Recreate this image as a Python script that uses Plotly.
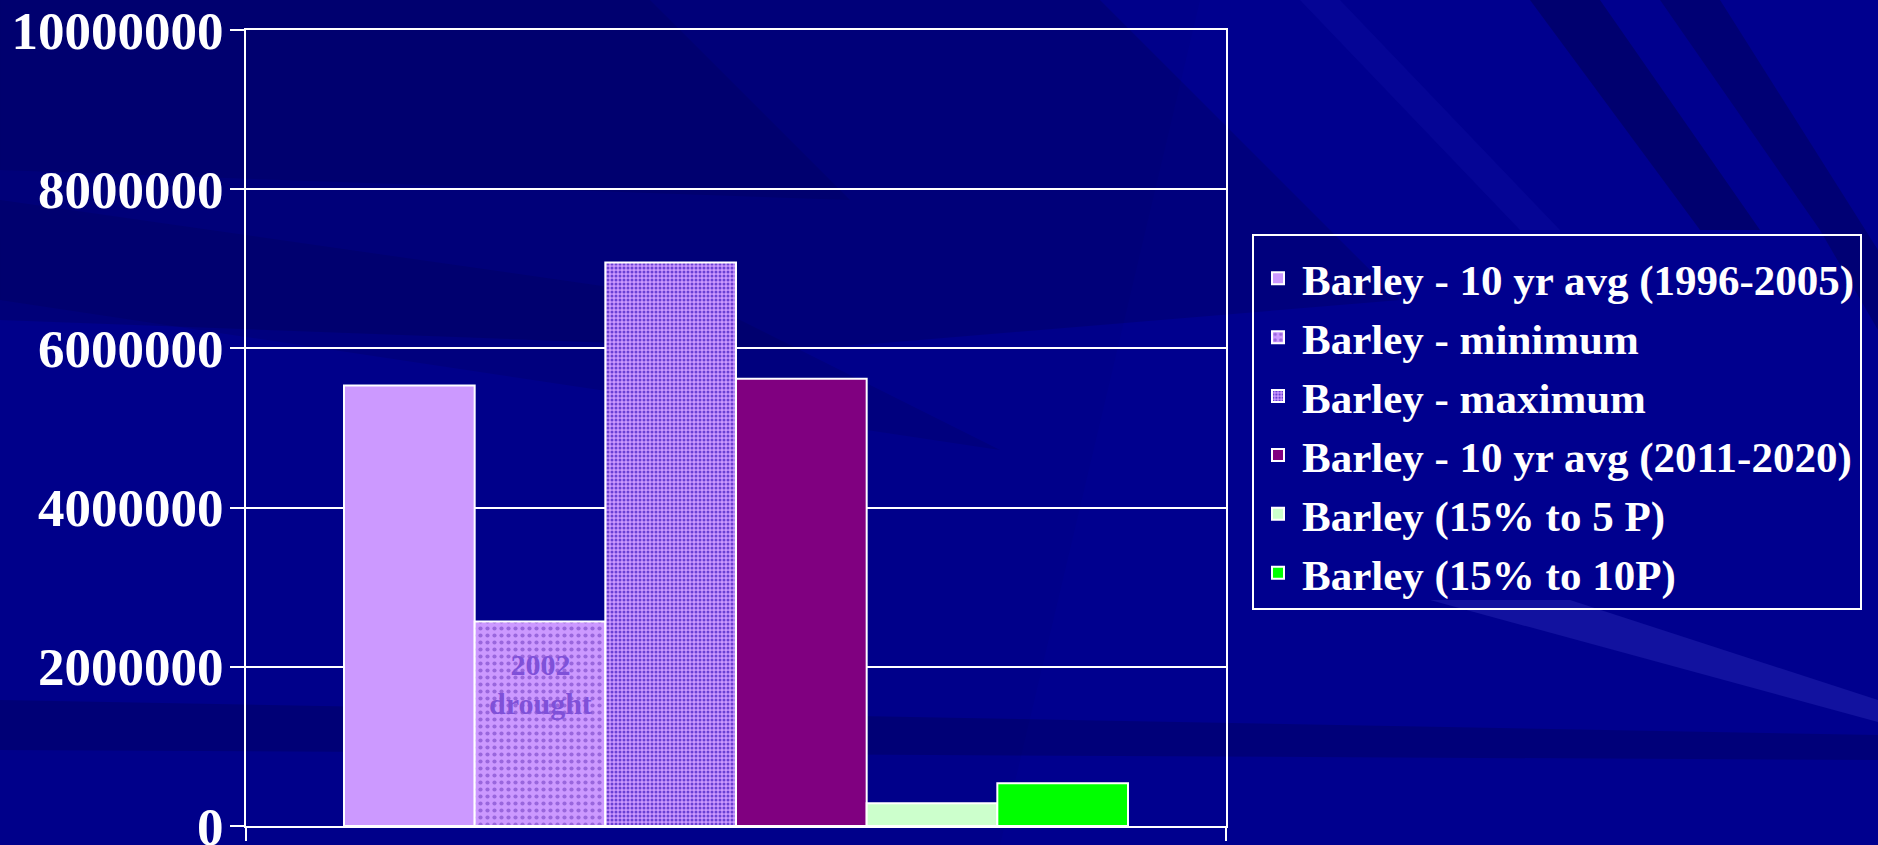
import plotly.graph_objects as go

# ---------------- data ----------------
category = [""]
series_names = [
    "Barley - 10 yr avg (1996-2005)",
    "Barley - minimum",
    "Barley - maximum",
    "Barley - 10 yr avg (2011-2020)",
    "Barley (15% to 5 P)",
    "Barley (15% to 10P)",
]
series_values = [5534000, 2569000, 7080000, 5618000, 285000, 536000]
y_tick_values = [0, 2000000, 4000000, 6000000, 8000000, 10000000]
y_tick_labels = ["0", "2000000", "4000000", "6000000", "8000000", "10000000"]
note_text = "2002<br>drought"

# ---------------- styles ----------------
fill_colors = ["#CC99FF", "#CC99FF", "#CC99FF", "#800080", "#CCFFCC", "#00FF00"]
patterns = [
    None,
    dict(shape=".", size=7, solidity=0.28, fgcolor="#9966DD", bgcolor="#CC99FF", fillmode="replace"),
    dict(shape=".", size=4, solidity=0.45, fgcolor="#6A40D4", bgcolor="#CC99FF", fillmode="replace"),
    None, None, None,
]
SERIF = "Liberation Serif"

fig = go.Figure()
for name, val, col, pat in zip(series_names, series_values, fill_colors, patterns):
    marker = dict(color=col, line=dict(color="white", width=2))
    if pat is not None:
        marker["pattern"] = pat
    fig.add_trace(go.Bar(x=category, y=[val], name=name, marker=marker))

# plot area in pixels (used only to place decorative background shapes)
L, R, T, B = 246, 1226, 30, 826
def px(x):
    return (x - L) / (R - L)
def py(y):
    return (B - y) / (B - T)

def poly(pts, color):
    path = "M " + " L ".join(f"{px(x):.4f},{py(y):.4f}" for x, y in pts) + " Z"
    return dict(type="path", xref="paper", yref="paper", path=path,
                fillcolor=color, line=dict(width=0), layer="below")

shapes = [
    # slightly brighter right side
    poly([(1200, 0), (1878, 0), (1878, 845), (1000, 845)], "rgba(0,0,170,0.15)"),
    # darker upper-left region
    poly([(0, 0), (1100, 0), (1400, 300), (800, 350), (0, 320)], "rgba(0,0,40,0.16)"),
    poly([(0, 0), (650, 0), (850, 200), (0, 170)], "rgba(0,0,40,0.12)"),
    poly([(0, 200), (700, 300), (1000, 450), (0, 300)], "rgba(0,0,40,0.12)"),
    # top-right streaks
    poly([(1530, 0), (1600, 0), (1760, 230), (1700, 230)], "rgba(0,0,40,0.3)"),
    poly([(1660, 0), (1720, 0), (1878, 250), (1878, 330), (1820, 230)], "rgba(0,0,40,0.25)"),
    poly([(1300, 0), (1340, 0), (1560, 230), (1520, 230)], "rgba(20,20,170,0.25)"),
    # lighter streak bottom right
    poly([(1430, 600), (1570, 600), (1878, 700), (1878, 722)], "rgba(60,60,200,0.3)"),
    # faint dark band low
    poly([(0, 700), (1878, 735), (1878, 760), (0, 750)], "rgba(0,0,40,0.2)"),
]

fig.add_annotation(
    x=-0.2, y=1780000, xref="x", yref="y", text=note_text, showarrow=False,
    font=dict(family=SERIF, size=30, color="#7F50D8", weight="bold"),
)

fig.update_layout(
    width=1878, height=845,
    margin=dict(l=L, r=1878 - R, t=T, b=845 - B, autoexpand=False),
    paper_bgcolor="#00008A",
    plot_bgcolor="rgba(0,0,0,0)",
    barmode="group", bargap=0.2, bargroupgap=0,
    shapes=shapes,
    font=dict(family=SERIF, color="white", weight="bold"),
    legend=dict(
        x=(1252 - L) / (R - L), xanchor="left",
        y=py(234), yanchor="top",
        bgcolor="rgba(0,0,0,0)", bordercolor="white", borderwidth=2,
        font=dict(family=SERIF, size=43, color="white", weight="bold"),
        title=dict(text=" ", font=dict(size=6)),
        traceorder="normal", itemwidth=38,
    ),
    xaxis=dict(
        showticklabels=False, ticks="outside", tickson="boundaries",
        ticklen=13, tickwidth=2, tickcolor="white",
        showline=True, linecolor="white", linewidth=2, mirror=True,
        showgrid=False, zeroline=False,
    ),
    yaxis=dict(
        range=[0, 10000000], tickvals=y_tick_values, ticktext=y_tick_labels,
        ticks="outside", ticklen=14, tickwidth=2, tickcolor="white",
        tickfont=dict(family=SERIF, size=53, color="white", weight="bold"),
        ticklabelstandoff=-4, ticklabeloverflow="allow",
        showline=True, linecolor="white", linewidth=2, mirror=True,
        showgrid=True, gridcolor="white", gridwidth=2, zeroline=False,
    ),
)

fig.write_html("out.html")
